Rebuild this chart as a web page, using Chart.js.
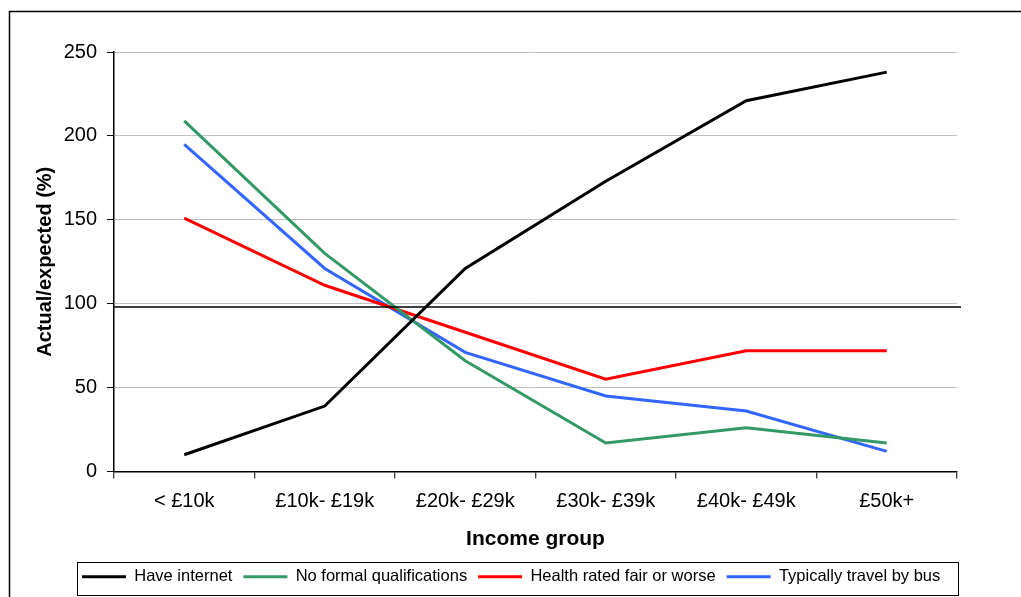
<!DOCTYPE html>
<html>
<head>
<meta charset="utf-8">
<script src="https://cdn.jsdelivr.net/npm/chart.js@4.4.1/dist/chart.umd.min.js"></script>
<style>
  html, body { margin: 0; padding: 0; background: #ffffff; }
  #wrap { position: relative; width: 1021px; height: 597px; }
</style>
</head>
<body>
<div id="wrap"><canvas id="c" width="1021" height="597"></canvas></div>
<script>
// ---- data ----
const categories = ['< £10k', '£10k- £19k', '£20k- £29k', '£30k- £39k', '£40k- £49k', '£50k+'];
const haveInternet = [10, 39, 121, 173, 221, 238];
const noFormalQualifications = [209, 130, 66, 17, 26, 17];
const healthFairOrWorse = [151, 111, 83, 55, 72, 72];
const travelByBus = [195, 121, 71, 45, 36, 12];
const seriesNames = ['Have internet', 'No formal qualifications', 'Health rated fair or worse', 'Typically travel by bus'];
const yTickValues = [0, 50, 100, 150, 200, 250];
const referenceValue = 98;

const FONT = '"Liberation Sans", Arial, Helvetica, sans-serif';
const LEGEND_START_X = 82;

const framePlugin = {
  id: 'frame',
  afterLayout(chart) {
    const lg = chart.legend;
    if (!lg || !lg.lineWidths) return;
    const pad = lg.options.labels.padding;
    const start = (lg.left + pad + lg.right - lg.lineWidths[0]) / 2;
    const dx = LEGEND_START_X - start;
    lg.left += dx;
    lg.right += dx;
  },
  beforeDraw(chart) {
    const ctx = chart.ctx;
    ctx.save();
    ctx.fillStyle = '#ffffff';
    ctx.fillRect(0, 0, chart.width, chart.height);
    ctx.strokeStyle = '#000000';
    ctx.lineWidth = 1.5;
    ctx.beginPath();
    ctx.moveTo(9.5, chart.height + 2);
    ctx.lineTo(9.5, 11.5);
    ctx.lineTo(chart.width + 2, 11.5);
    ctx.stroke();
    ctx.restore();
  },
  afterDraw(chart) {
    const ctx = chart.ctx;
    const y = chart.scales.y.getPixelForValue(referenceValue);
    const area = chart.chartArea;
    ctx.save();
    ctx.strokeStyle = '#000000';
    ctx.lineWidth = 1.5;
    ctx.beginPath();
    ctx.moveTo(area.left, y);
    ctx.lineTo(area.right + 4, y);
    ctx.stroke();
    // legend border
    const hb = chart.legend.legendHitBoxes;
    if (hb && hb.length) {
      let l = Infinity, r = -Infinity, t = Infinity, b = -Infinity;
      hb.forEach(h => {
        l = Math.min(l, h.left); r = Math.max(r, h.left + h.width);
        t = Math.min(t, h.top); b = Math.max(b, h.top + h.height);
      });
      ctx.strokeStyle = '#000000';
      ctx.lineWidth = 1;
      ctx.strokeRect(Math.round(l - 5) + 0.5, Math.round(t - 7) + 0.5, Math.round(r - l + 23), Math.round(b - t + 16));
    }
    ctx.restore();
  }
};

const colors = ['#000000', '#339966', '#ff0000', '#3366ff'];
const seriesData = [haveInternet, noFormalQualifications, healthFairOrWorse, travelByBus];

new Chart(document.getElementById('c'), {
  type: 'line',
  data: {
    labels: categories,
    datasets: seriesData.map((d, i) => ({
      label: seriesNames[i],
      data: d,
      borderColor: colors[i],
      backgroundColor: colors[i],
      borderWidth: 3,
      pointRadius: 0,
      pointHoverRadius: 0,
      tension: 0,
      fill: false,
      pointStyle: 'line'
    }))
  },
  options: {
    responsive: false,
    animation: false,
    devicePixelRatio: 1,
    layout: { padding: { left: 0, right: 64, top: 52, bottom: 2 } },
    plugins: {
      tooltip: { enabled: false },
      legend: {
        position: 'bottom',
        labels: {
          usePointStyle: true,
          pointStyle: 'line',
          pointStyleWidth: 44,
          boxHeight: 16,
          padding: 11,
          color: '#000000',
          font: { family: FONT, size: 16.5 }
        }
      }
    },
    scales: {
      x: {
        type: 'category',
        offset: true,
        grid: {
          offset: true,
          drawOnChartArea: true,
          color: (c) => (c.index === categories.length ? '#999999' : 'rgba(0,0,0,0)'),
          tickColor: '#000000',
          tickLength: 7,
          lineWidth: 1.5,
          tickWidth: 1
        },
        border: { display: true, color: '#000000', width: 1.5 },
        ticks: { color: '#000000', font: { family: FONT, size: 20 }, padding: 11, maxRotation: 0, autoSkip: false },
        title: {
          display: true,
          text: 'Income group',
          color: '#000000',
          font: { family: FONT, size: 21, weight: 'bold' },
          padding: { top: 0, bottom: 6 }
        },
        afterFit(scale) { scale.height = 86; }
      },
      y: {
        min: 0,
        max: 250,
        afterBuildTicks(scale) { scale.ticks = yTickValues.map(v => ({ value: v })); },
        grid: {
          color: (c) => (c.tick && c.tick.value === 0 ? '#000000' : '#c0c0c0'),
          tickColor: '#000000',
          tickLength: 7,
          lineWidth: 1
        },
        border: { display: true, color: '#000000', width: 1.5 },
        ticks: { color: '#000000', font: { family: FONT, size: 20 }, padding: 10 },
        title: {
          display: true,
          text: 'Actual/expected (%)',
          color: '#000000',
          font: { family: FONT, size: 20, weight: 'bold' },
          padding: { top: 33, bottom: 0 }
        },
        afterFit(scale) { scale.width = 114; }
      }
    }
  },
  plugins: [framePlugin]
});
</script>
</body>
</html>
